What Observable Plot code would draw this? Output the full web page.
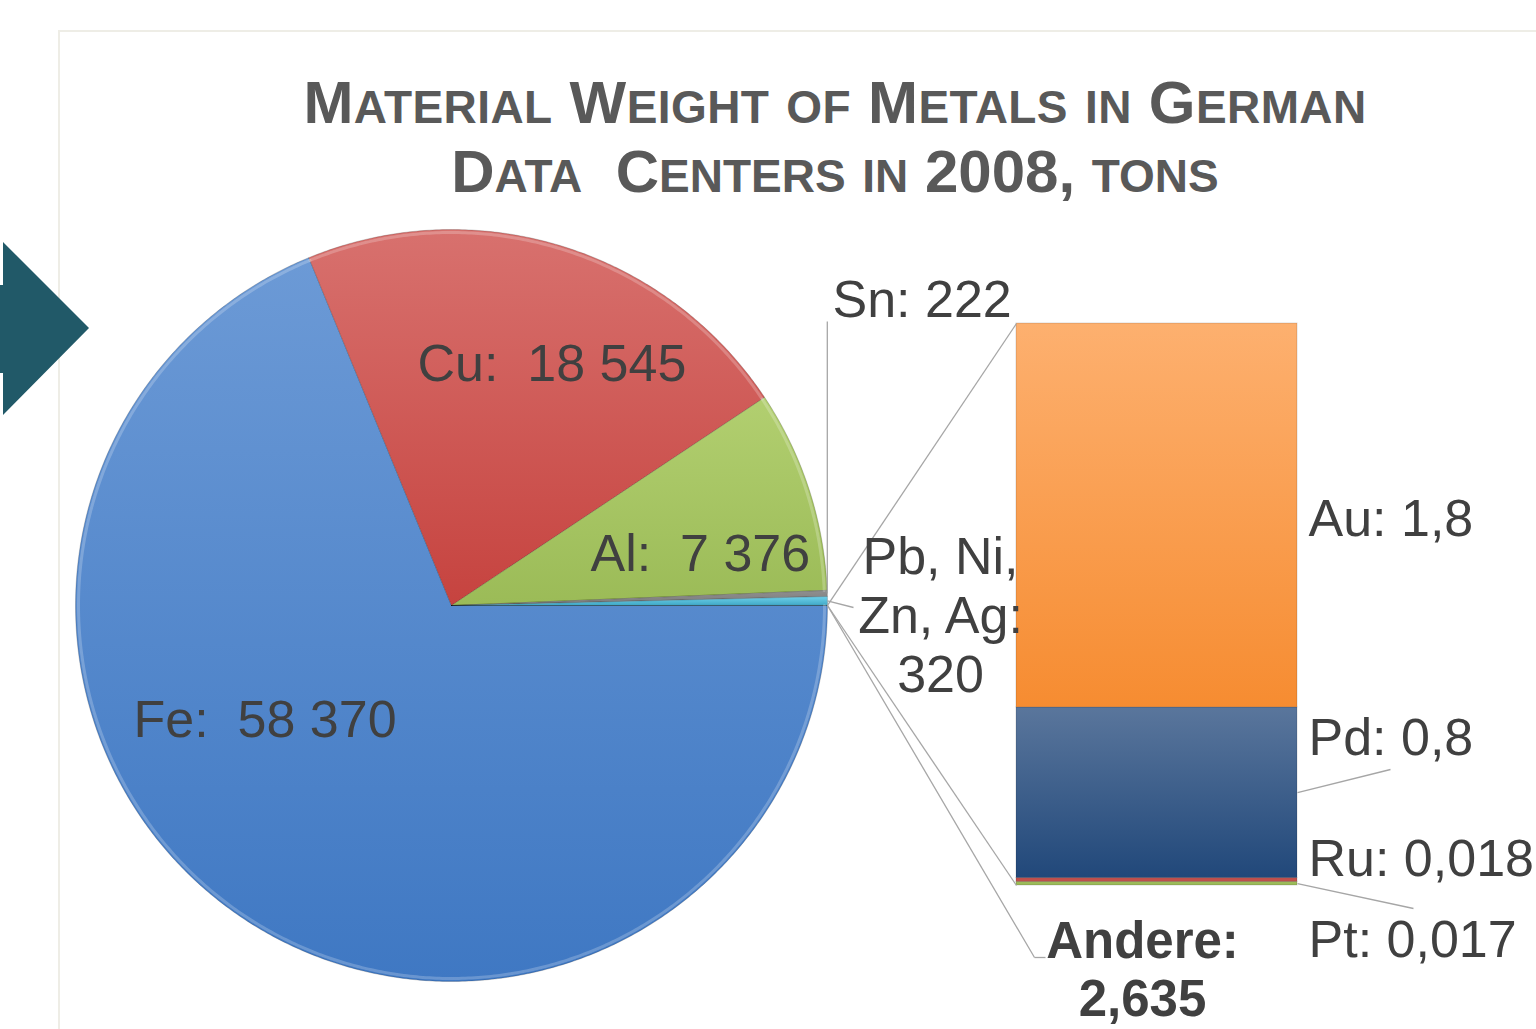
<!DOCTYPE html>
<html><head><meta charset="utf-8">
<script src="https://cdn.jsdelivr.net/npm/d3@7"></script>
<script src="https://cdn.jsdelivr.net/npm/@observablehq/plot@0.6"></script>
<style>
html,body{margin:0;padding:0;background:#fff;}
#wrap{position:relative;width:1536px;height:1029px;overflow:hidden;}
#frame{position:absolute;left:58px;top:30px;width:1600px;height:1100px;border:2px solid #eeede6;box-sizing:border-box;}
#chart{position:absolute;left:0;top:0;}
.tl{position:absolute;left:135px;width:1400px;text-align:center;font-family:"Liberation Sans",Arial,sans-serif;font-weight:bold;color:#595959;font-size:60px;line-height:60px;white-space:pre;}
.sc{font-size:46px;}
#arrow{position:absolute;left:0;top:0;}
</style></head><body>
<div id="wrap">
<div id="frame"></div>
<div id="chart"></div>
<div class="tl" id="t1" style="top:73px;letter-spacing:0.4px"></div>
<div class="tl" id="t2" style="top:142px"></div>
<svg id="arrow" width="100" height="430"><polygon points="0,285 3,285 3,242 89,328 3,415 3,373 0,373" fill="#215968"/></svg>
</div>
<script>
// ---------- data ----------
const titleLines = ["Material Weight of Metals in German", "Data  Centers in 2008, tons"];
const pieCategories = ["Fe", "Cu", "Al", "Sn", "Pb, Ni, Zn, Ag", "Andere"];
const pieValues = [58370, 18545, 7376, 222, 320, 2.635];
const pieValueLabels = ["58 370", "18 545", "7 376", "222", "320", "2,635"];
const barCategories = ["Au", "Pd", "Ru", "Pt"];
const barValues = [1.8, 0.8, 0.018, 0.017];
const barValueLabels = ["1,8", "0,8", "0,018", "0,017"];

// ---------- styles ----------
const pieColors = {
  Fe: ["#6c9ad6", "#3f78c3"],
  Cu: ["#d8716e", "#c6433f"],
  Al: ["#b2cf70", "#9bbb57"],
  Sn: ["#8f8f8f", "#7a7a7a"],
  "Pb, Ni, Zn, Ag": ["#6fd0ea", "#3fa8c6"],
  Andere: ["#8064a2", "#8064a2"]
};
const barColors = {
  Au: ["#fdb06f", "#f68c31"],
  Pd: ["#5a769c", "#21487a"],
  Ru: ["#c0504d", "#c0504d"],
  Pt: ["#9bbb59", "#9bbb59"]
};

// ---------- layout (pixels) ----------
const W = 1536, H = 1029;
const cx = 451, cy = 605, R = 376;
const bar = {left: 1016, right: 1297, top: 323, bottom: 885};
const px = (x) => (x - cx) / R;
const py = (y) => (cy - y) / R;
const labelFont = "Liberation Sans, Arial, sans-serif";
const fontSize = 52;
const lh = 59 / 52;

// ---------- title ----------
function smallCaps(el, s) {
  let html = "";
  for (const ch of s) {
    if (ch >= "a" && ch <= "z") html += `<span class="sc">${ch.toUpperCase()}</span>`;
    else html += ch;
  }
  el.innerHTML = html;
}
smallCaps(document.getElementById("t1"), titleLines[0]);
smallCaps(document.getElementById("t2"), titleLines[1]);

// ---------- pie geometry from data ----------
const total = d3.sum(pieValues);
let cum = 0;
const slices = pieCategories.map((c, i) => {
  const t0 = cum / total;
  cum += pieValues[i];
  const t1 = cum / total;
  return {key: c, i, a0: -t0 * 2 * Math.PI, a1: -t1 * 2 * Math.PI};
});
const piePoints = [];
const rimPoints = [];
for (const s of slices) {
  const n = Math.max(2, Math.ceil(Math.abs(s.a1 - s.a0) / (Math.PI / 360)));
  piePoints.push({key: s.key, x: 0, y: 0, grad: `url(#gp${s.i})`});
  for (let k = 0; k <= n; k++) {
    const a = s.a0 + (s.a1 - s.a0) * k / n;
    piePoints.push({key: s.key, x: Math.cos(a), y: Math.sin(a), grad: `url(#gp${s.i})`});
    if (s.i < 3) rimPoints.push({key: s.key, x: 0.992 * Math.cos(a), y: 0.992 * Math.sin(a)});
  }
  piePoints.push({key: s.key, x: 0, y: 0, grad: `url(#gp${s.i})`});
}
const edge = (a) => [Math.cos(a), Math.sin(a)];
const mid = (s) => (s.a0 + s.a1) / 2;

// ---------- bar stack from data ----------
const barTotal = d3.sum(barValues);
const bTop = py(bar.top), bBot = py(bar.bottom);
const k = (bTop - bBot) / barTotal;
let bcum = 0;
const barRows = barCategories.map((c, i) => i).reverse().map((i) => {
  const y1 = bBot + bcum * k;
  bcum += barValues[i];
  const y2 = bBot + bcum * k;
  return {key: barCategories[i], i, x1: px(bar.left), x2: px(bar.right), y1, y2, grad: `url(#gb${i})`};
});
const barRow = (c) => barRows.find((r) => r.key === c);

// ---------- leader lines ----------
const sSn = slices[3], sPb = slices[4], sAn = slices[5];
const [snx, sny] = edge(mid(sSn));
const [pbx, pby] = edge(mid(sPb));
const [an0x, an0y] = edge(sAn.a0);
const [an1x, an1y] = edge(sAn.a1);
const [anmx, anmy] = edge(mid(sAn));
const pd = barRow("Pd"), pt = barRow("Pt");
const leaders = [
  {x1: snx, y1: sny, x2: snx, y2: py(321)},
  {x1: pbx, y1: pby, x2: px(853), y2: py(607)},
  {x1: an0x, y1: an0y, x2: px(bar.left), y2: bTop},
  {x1: an1x, y1: an1y, x2: px(bar.left), y2: bBot},
  {x1: anmx, y1: anmy, x2: px(1034), y2: py(957)},
  {x1: px(1034), y1: py(957), x2: px(1045), y2: py(957)},
  {x1: px(bar.right), y1: (pd.y1 + pd.y2) / 2, x2: px(1390), y2: py(769)},
  {x1: px(bar.right), y1: (pt.y1 + pt.y2) / 2, x2: px(1413), y2: py(908)}
];

// ---------- labels ----------
const labelPos = {
  Fe: [133, 736, "start"], Cu: [417, 380, "start"], Al: [590, 570, "start"],
  Sn: [832, 316, "start"], "Pb, Ni, Zn, Ag": [940, 691, "middle"], Andere: [1142, 1015, "middle"],
  Au: [1308, 535, "start"], Pd: [1308, 754, "start"], Ru: [1308, 875, "start"], Pt: [1308, 956, "start"]
};
const labels = [];
pieCategories.forEach((c, i) => {
  let text;
  if (i < 3) text = `${c}:\u00a0\u00a0${pieValueLabels[i]}`;
  else if (c === "Sn") text = `${c}: ${pieValueLabels[i]}`;
  else if (c === "Andere") text = `${c}:\n${pieValueLabels[i]}`;
  else text = `${c.replace(", Zn", ",\nZn")}:\n${pieValueLabels[i]}`;
  const [x, y, anchor] = labelPos[c];
  labels.push({text, x: px(x), y: py(y), anchor, bold: c === "Andere"});
});
barCategories.forEach((c, i) => {
  const [x, y, anchor] = labelPos[c];
  labels.push({text: `${c}: ${barValueLabels[i]}`, x: px(x), y: py(y), anchor, bold: false});
});

const textMark = (data, anchor, weight) => Plot.text(data, {
  x: "x", y: "y", text: "text", textAnchor: anchor, lineAnchor: "bottom", lineHeight: lh,
  fontSize: weight === "bold" ? 51 : fontSize, fontFamily: labelFont, fontWeight: weight, fill: "#404040"
});

const chart = Plot.plot({
  width: W, height: H,
  margin: 0,
  x: {type: "linear", domain: [px(0), px(W)], range: [0, W], axis: null},
  y: {type: "linear", domain: [py(H), py(0)], range: [H, 0], axis: null},
  color: {type: "identity"},
  style: {background: "transparent", overflow: "visible"},
  marks: [
    Plot.line(piePoints, {x: "x", y: "y", z: "key", fill: "grad", stroke: "#000", strokeOpacity: 0.18, strokeWidth: 1, curve: "linear"}),
    Plot.line(rimPoints, {x: "x", y: "y", z: "key", stroke: "#fff", strokeOpacity: 0.22, strokeWidth: 3}),
    Plot.rect(barRows, {x1: "x1", x2: "x2", y1: "y1", y2: "y2", fill: "grad", stroke: "#000", strokeOpacity: 0.14, strokeWidth: 1, inset: 0}),
    Plot.link(leaders, {x1: "x1", y1: "y1", x2: "x2", y2: "y2", stroke: "#a6a6a6", strokeWidth: 1.3}),
    textMark(labels.filter((d) => !d.bold && d.anchor === "start"), "start", "normal"),
    textMark(labels.filter((d) => !d.bold && d.anchor === "middle"), "middle", "normal"),
    textMark(labels.filter((d) => d.bold), "middle", "bold")
  ]
});

// gradients
const defs = d3.create("svg:defs");
const addGrad = (id, [c0, c1]) => {
  const g = defs.append("linearGradient").attr("id", id).attr("x1", 0).attr("y1", 0).attr("x2", 0).attr("y2", 1);
  g.append("stop").attr("offset", "0%").attr("stop-color", c0);
  g.append("stop").attr("offset", "100%").attr("stop-color", c1);
};
pieCategories.forEach((c, i) => addGrad(`gp${i}`, pieColors[c]));
barCategories.forEach((c, i) => addGrad(`gb${i}`, barColors[c]));
chart.insertBefore(defs.node(), chart.firstChild);
document.getElementById("chart").appendChild(chart);
</script>
</body></html>
